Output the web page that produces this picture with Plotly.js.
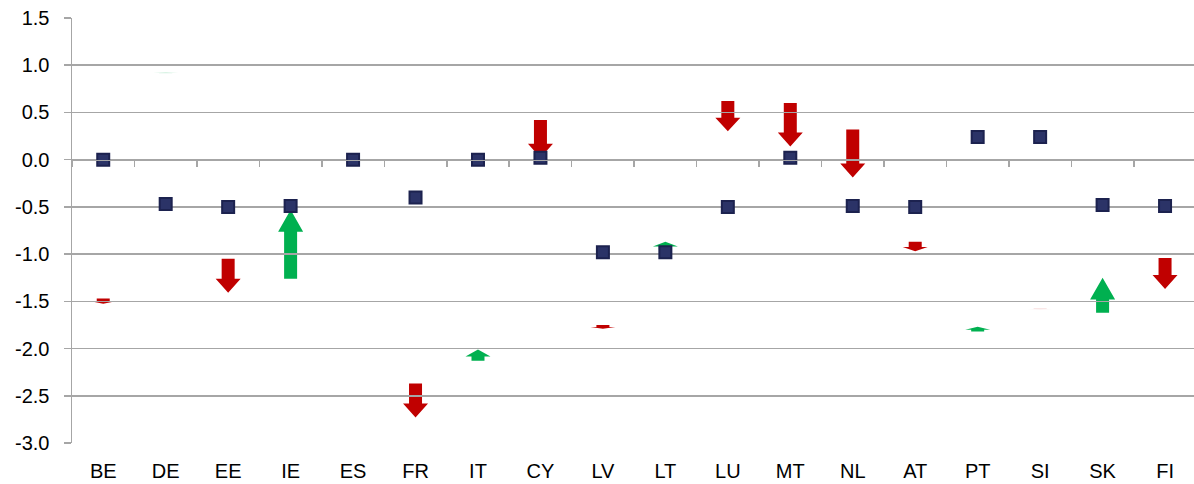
<!DOCTYPE html>
<html>
<head>
<meta charset="utf-8">
<script src="https://cdn.plot.ly/plotly-3.0.1.min.js"></script>
<style>html,body{margin:0;padding:0;background:#fff;}#chart{width:1194px;height:484px;}</style>
</head>
<body>
<div id="chart"></div>
<script>
// Data
const categories = ['BE','DE','EE','IE','ES','FR','IT','CY','LV','LT','LU','MT','NL','AT','PT','SI','SK','FI'];
const currentValue = [0.00,-0.47,-0.50,-0.49,0.00,-0.40,0.00,0.02,-0.98,-0.98,-0.50,0.02,-0.49,-0.50,0.24,0.24,-0.48,-0.49];
const changeFrom = [-1.47,0.915,-1.05,-1.26,null,-2.37,-2.13,0.42,-1.75,-0.95,0.62,0.60,0.32,-0.87,-1.82,-1.575,-1.62,-1.04];
const changeTo   = [-1.525,0.925,-1.41,-0.53,null,-2.73,-2.01,0.02,-1.79,-0.87,0.30,0.14,-0.19,-0.97,-1.77,-1.585,-1.25,-1.37];
const yTickVals = [-3.0,-2.5,-2.0,-1.5,-1.0,-0.5,0.0,0.5,1.0,1.5];
const yTickText = yTickVals.map(v => v.toFixed(1));

// Layout geometry
const W = 1194, H = 484;
const margin = {l: 72, r: 0, t: 18, b: 41, pad: 0};
const yRange = [-3.0, 1.5];
const pxPerUnit = (H - margin.t - margin.b) / (yRange[1] - yRange[0]);

const RED = '#C00000', GREEN = '#00B050';
const GRID = '#a6a6a6';

function arrowPath(y0, y1, up) {
  const lenPx = Math.abs(y1 - y0) * pxPerUnit;
  const headPx = up ? Math.min(22, 0.62 * lenPx) : Math.min(14, 0.45 * lenPx);
  const dir = Math.sign(y1 - y0) || 1;
  const hb = y1 - dir * headPx / pxPerUnit;
  const sw = 6.5, hw = 12.5;
  return `M${-sw},${y0} L${sw},${y0} L${sw},${hb} L${hw},${hb} L0,${y1} L${-hw},${hb} L${-sw},${hb} Z`;
}

const shapes = [];
categories.forEach((c, i) => {
  const a = changeFrom[i], b = changeTo[i];
  if (a === null || b === null) return;
  const up = b > a;
  const faint = Math.abs(b - a) < 0.02;
  shapes.push({
    type: 'path', xref: 'x', yref: 'y', xsizemode: 'pixel', xanchor: i,
    path: arrowPath(a, b, up),
    fillcolor: up ? GREEN : RED,
    line: {width: 0},
    opacity: faint ? 0.2 : 1,
    layer: 'below'
  });
});

const traces = [
  {
    type: 'scatter', mode: 'markers', x: categories, y: currentValue,
    xaxis: 'x', yaxis: 'y',
    marker: {symbol: 'square', size: 12, color: '#2b3367', line: {color: '#1c224f', width: 2}},
    hoverinfo: 'x+y', showlegend: false
  },
  {
    type: 'scatter', mode: 'markers', x: categories, y: currentValue,
    xaxis: 'x2', yaxis: 'y',
    marker: {opacity: 0}, hoverinfo: 'skip', showlegend: false
  }
];

const xRange = [-0.5, -0.5 + (W - margin.l) / 62.46];
const font = {family: 'Liberation Sans, Arial, sans-serif', size: 20, color: '#000'};

const layout = {
  width: W, height: H, margin: margin,
  paper_bgcolor: '#fff', plot_bgcolor: '#fff',
  font: font, showlegend: false,
  xaxis: {
    type: 'category', categoryorder: 'array', categoryarray: categories,
    range: xRange, showgrid: false, zeroline: false, showline: false,
    ticks: '', tickfont: font, ticklabelstandoff: 14, fixedrange: true
  },
  xaxis2: {
    type: 'category', categoryorder: 'array', categoryarray: categories,
    overlaying: 'x', anchor: 'free', position: (0 - yRange[0]) / (yRange[1] - yRange[0]),
    range: xRange, showgrid: false, zeroline: false,
    showline: true, linecolor: GRID, linewidth: 1.5,
    ticks: 'outside', tickson: 'boundaries', ticklen: 6, tickwidth: 1.5, tickcolor: GRID,
    showticklabels: false, fixedrange: true
  },
  yaxis: {
    range: yRange, tickvals: yTickVals, ticktext: yTickText,
    showgrid: true, gridcolor: GRID, gridwidth: 1.5, zeroline: false,
    showline: true, linecolor: GRID, linewidth: 1.5,
    ticks: 'outside', ticklen: 7, tickwidth: 1.5, tickcolor: GRID,
    tickfont: font, ticklabelstandoff: 10, fixedrange: true
  },
  shapes: shapes
};

Plotly.newPlot('chart', traces, layout, {displayModeBar: false, staticPlot: true});
</script>
</body>
</html>
